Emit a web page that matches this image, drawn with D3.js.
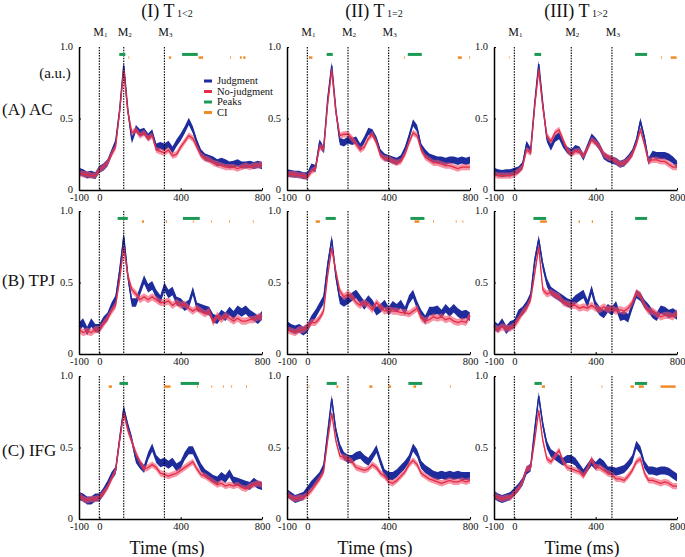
<!DOCTYPE html>
<html><head><meta charset="utf-8">
<script src="https://cdn.jsdelivr.net/npm/d3@7"></script>
<style>
body{margin:0;background:#fff}
svg{display:block}
text{font-family:"Liberation Serif","Times New Roman",serif;fill:#111}
</style>
</head><body>
<svg id="chart" width="685" height="557"></svg>
<script>
// ---------- DATA ----------
const times = [-100,-80,-60,-40,-20,0,20,40,60,80,100,120,140,160,180,200,220,240,260,280,300,320,340,360,380,400,420,440,460,480,500,520,540,560,580,600,620,640,660,680,700,720,740,760,780,800];

const conditions = ["(I) T", "(II) T", "(III) T"];
const conditionSubs = ["1<2", "1=2", "1>2"];
const regions = ["(A) AC", "(B) TPJ", "(C) IFG"];
const markerTimes = [[0,120,320],[0,200,400],[0,280,480]];
const markerLabels = ["1","2","3"];
const xTicks = [-100,0,400,800];
const xTickLabels = ["-100","0","400","800"];
const yTicks = [0,0.5,1];
const yTickLabels = ["0","0.5","1.0"];
const legendLabels = ["Judgment","No-judgment","Peaks","CI"];

// AC
const AC_I_J = [0.13,0.12,0.105,0.11,0.10,0.145,0.16,0.19,0.26,0.33,0.56,0.87,0.56,0.35,0.43,0.40,0.41,0.37,0.40,0.30,0.31,0.30,0.32,0.28,0.33,0.37,0.42,0.48,0.42,0.33,0.26,0.23,0.22,0.21,0.19,0.20,0.19,0.175,0.18,0.19,0.175,0.175,0.18,0.17,0.18,0.17];
const AC_I_N = [0.12,0.11,0.11,0.10,0.10,0.14,0.16,0.19,0.25,0.30,0.55,0.84,0.55,0.40,0.42,0.38,0.40,0.36,0.38,0.28,0.27,0.26,0.28,0.24,0.25,0.30,0.34,0.38,0.36,0.30,0.24,0.22,0.21,0.19,0.18,0.17,0.16,0.16,0.16,0.15,0.16,0.17,0.16,0.17,0.17,0.18];
const AC_II_J = [0.12,0.115,0.11,0.11,0.10,0.10,0.16,0.15,0.33,0.28,0.63,0.87,0.56,0.34,0.33,0.35,0.34,0.35,0.30,0.35,0.41,0.40,0.35,0.26,0.23,0.22,0.21,0.20,0.22,0.28,0.37,0.47,0.43,0.30,0.26,0.23,0.22,0.21,0.21,0.20,0.21,0.21,0.20,0.21,0.20,0.21];
const AC_II_N = [0.11,0.11,0.11,0.10,0.10,0.09,0.13,0.15,0.30,0.29,0.60,0.84,0.55,0.38,0.39,0.39,0.36,0.32,0.28,0.30,0.36,0.39,0.33,0.24,0.22,0.22,0.20,0.19,0.20,0.25,0.33,0.40,0.38,0.28,0.23,0.21,0.19,0.19,0.18,0.17,0.17,0.16,0.15,0.16,0.16,0.16];
const AC_III_J = [0.13,0.12,0.115,0.12,0.12,0.13,0.14,0.17,0.32,0.27,0.60,0.88,0.60,0.36,0.30,0.36,0.38,0.32,0.28,0.26,0.29,0.28,0.23,0.30,0.37,0.34,0.30,0.24,0.22,0.21,0.20,0.18,0.19,0.22,0.26,0.34,0.48,0.36,0.20,0.25,0.24,0.24,0.24,0.23,0.21,0.18];
const AC_III_N = [0.11,0.10,0.10,0.10,0.10,0.11,0.13,0.16,0.28,0.26,0.58,0.84,0.58,0.38,0.34,0.40,0.42,0.35,0.28,0.25,0.27,0.27,0.24,0.29,0.35,0.33,0.30,0.25,0.23,0.22,0.20,0.18,0.19,0.21,0.25,0.32,0.42,0.32,0.20,0.21,0.21,0.20,0.20,0.18,0.16,0.16];
// TPJ
const TPJ_I_J = [0.19,0.22,0.16,0.22,0.18,0.18,0.23,0.26,0.33,0.38,0.58,0.82,0.55,0.36,0.36,0.44,0.52,0.46,0.48,0.42,0.38,0.47,0.42,0.44,0.37,0.36,0.33,0.35,0.44,0.33,0.32,0.31,0.30,0.25,0.24,0.28,0.26,0.30,0.27,0.31,0.29,0.31,0.28,0.26,0.24,0.27];
const TPJ_I_N = [0.17,0.15,0.16,0.15,0.17,0.17,0.21,0.25,0.30,0.34,0.52,0.75,0.55,0.45,0.42,0.38,0.40,0.38,0.40,0.38,0.36,0.36,0.37,0.34,0.36,0.34,0.35,0.32,0.30,0.32,0.30,0.28,0.30,0.22,0.27,0.24,0.27,0.25,0.23,0.25,0.23,0.23,0.24,0.24,0.26,0.26];
const TPJ_II_J = [0.20,0.18,0.17,0.18,0.16,0.18,0.24,0.28,0.33,0.38,0.62,0.80,0.55,0.38,0.36,0.38,0.40,0.42,0.38,0.34,0.38,0.35,0.30,0.32,0.35,0.30,0.34,0.32,0.35,0.30,0.38,0.42,0.34,0.28,0.24,0.30,0.30,0.31,0.28,0.32,0.29,0.32,0.29,0.27,0.28,0.26];
const TPJ_II_N = [0.17,0.16,0.15,0.17,0.17,0.19,0.22,0.22,0.25,0.30,0.55,0.74,0.58,0.44,0.40,0.42,0.40,0.36,0.34,0.36,0.34,0.31,0.36,0.33,0.30,0.31,0.30,0.30,0.29,0.29,0.28,0.30,0.32,0.25,0.23,0.24,0.26,0.25,0.26,0.24,0.25,0.23,0.22,0.23,0.22,0.27];
const TPJ_III_J = [0.20,0.18,0.22,0.17,0.20,0.21,0.28,0.30,0.34,0.40,0.65,0.80,0.62,0.50,0.44,0.42,0.40,0.38,0.36,0.35,0.38,0.40,0.42,0.35,0.45,0.34,0.30,0.28,0.32,0.30,0.34,0.26,0.27,0.25,0.34,0.42,0.40,0.35,0.32,0.28,0.26,0.31,0.30,0.28,0.29,0.27];
const TPJ_III_N = [0.19,0.17,0.19,0.18,0.18,0.20,0.24,0.29,0.32,0.38,0.56,0.75,0.45,0.42,0.43,0.41,0.40,0.36,0.35,0.34,0.34,0.32,0.33,0.32,0.34,0.32,0.31,0.33,0.31,0.32,0.30,0.31,0.30,0.32,0.36,0.43,0.41,0.34,0.30,0.30,0.28,0.26,0.27,0.27,0.26,0.29];
// IFG
const IFG_I_J = [0.16,0.15,0.13,0.13,0.15,0.15,0.19,0.24,0.30,0.34,0.56,0.77,0.65,0.55,0.42,0.38,0.35,0.44,0.50,0.42,0.39,0.40,0.38,0.40,0.36,0.38,0.44,0.48,0.48,0.42,0.36,0.32,0.30,0.28,0.27,0.30,0.28,0.32,0.27,0.26,0.25,0.24,0.23,0.26,0.24,0.23];
const IFG_I_N = [0.17,0.14,0.13,0.14,0.14,0.15,0.18,0.22,0.28,0.34,0.55,0.74,0.62,0.54,0.46,0.40,0.35,0.36,0.38,0.36,0.32,0.31,0.30,0.31,0.32,0.34,0.36,0.38,0.40,0.35,0.31,0.30,0.28,0.26,0.24,0.25,0.23,0.24,0.23,0.24,0.22,0.21,0.23,0.24,0.25,0.24];
const IFG_II_J = [0.18,0.16,0.14,0.15,0.16,0.20,0.24,0.27,0.30,0.36,0.60,0.84,0.62,0.50,0.44,0.42,0.42,0.44,0.45,0.42,0.40,0.44,0.49,0.40,0.32,0.30,0.30,0.32,0.35,0.38,0.42,0.50,0.46,0.38,0.35,0.33,0.31,0.30,0.31,0.30,0.31,0.30,0.31,0.30,0.30,0.30];
const IFG_II_N = [0.18,0.15,0.14,0.15,0.15,0.17,0.20,0.24,0.28,0.33,0.55,0.74,0.55,0.44,0.43,0.42,0.40,0.36,0.35,0.34,0.35,0.38,0.36,0.32,0.30,0.26,0.25,0.27,0.30,0.33,0.38,0.41,0.38,0.32,0.30,0.28,0.27,0.26,0.25,0.26,0.27,0.26,0.26,0.27,0.26,0.27];
const IFG_III_J = [0.17,0.15,0.14,0.15,0.16,0.19,0.22,0.26,0.34,0.36,0.62,0.86,0.66,0.52,0.46,0.44,0.42,0.40,0.42,0.42,0.40,0.36,0.32,0.36,0.40,0.37,0.40,0.38,0.34,0.34,0.33,0.34,0.35,0.38,0.42,0.52,0.48,0.38,0.34,0.34,0.33,0.34,0.34,0.33,0.31,0.29];
const IFG_III_N = [0.17,0.15,0.14,0.15,0.15,0.18,0.21,0.26,0.35,0.36,0.55,0.76,0.55,0.42,0.40,0.44,0.48,0.40,0.36,0.35,0.34,0.33,0.30,0.35,0.42,0.36,0.36,0.34,0.32,0.31,0.28,0.28,0.27,0.30,0.34,0.40,0.42,0.32,0.27,0.27,0.26,0.25,0.26,0.25,0.23,0.23];

// band half-widths (standard error), per region: [Judgment, No-judgment]
const bandHalfWidth = [[0.025,0.022],[0.03,0.025],[0.028,0.022]];

// significant windows (ms)
const peaks_AC = [[[98,128],[407,484]], [[95,125],[494,563]], [[99,132],[594,653]]];
const ci_AC = [[[143,147],[342,353],[488,510],[643,647],[691,700],[708,719]], [[8,25],[475,479],[740,760],[796,800]], [[-27,-24],[721,725],[769,798]]];
const peaks_TPJ = [[[90,140],[411,494]], [[90,140],[507,576]], [[94,156],[594,653]]];
const ci_TPJ = [[[210,220],[327,333],[460,464],[549,553],[638,642],[755,759]], [[41,62],[527,551],[618,622],[730,734],[763,767]], [[127,160],[316,322],[381,387]]];
const peaks_IFG = [[[99,141],[400,490]], [[95,145],[497,565]], [[99,135],[593,653]]];
const ci_IFG = [[[46,62],[318,350],[480,484],[551,555],[608,612],[649,653],[722,726]], [[6,10],[143,152],[305,320],[400,412],[522,535],[701,705]], [[135,151],[429,433],[571,588],[612,637],[719,793]]];

// ---------- BUILD ----------
const series = [
  [[AC_I_J,AC_I_N],[AC_II_J,AC_II_N],[AC_III_J,AC_III_N]],
  [[TPJ_I_J,TPJ_I_N],[TPJ_II_J,TPJ_II_N],[TPJ_III_J,TPJ_III_N]],
  [[IFG_I_J,IFG_I_N],[IFG_II_J,IFG_II_N],[IFG_III_J,IFG_III_N]]
];
const peaksAll = [peaks_AC, peaks_TPJ, peaks_IFG];
const ciAll = [ci_AC, ci_TPJ, ci_IFG];

const colors = {blue:"#1e2c9c", red:"#e52b45", redBand:"rgba(240,80,108,0.62)", green:"#1c9a55", orange:"#f08c28"};

const colX = [79, 287, 494];
const rowTop = [47, 211, 376];
const plotW = 183, plotH = 143;

const svg = d3.select("#chart");
const x = d3.scaleLinear().domain([-100,800]).range([0,plotW]);
const y = d3.scaleLinear().domain([0,1]).range([plotH,0]);

for (let r = 0; r < 3; r++) {
  for (let c = 0; c < 3; c++) {
    const g = svg.append("g").attr("transform", `translate(${colX[c]},${rowTop[r]})`);
    const [J, N] = series[r][c];
    const [hwJ, hwN] = bandHalfWidth[r];

    const areaJ = d3.area().x((d,i)=>x(times[i])).y0(d=>y(d-hwJ)).y1(d=>y(d+hwJ));
    const areaN = d3.area().x((d,i)=>x(times[i])).y0(d=>y(d-hwN)).y1(d=>y(d+hwN));
    const lineF = d3.line().x((d,i)=>x(times[i])).y(d=>y(d));

    g.append("path").datum(J).attr("d", areaJ).attr("fill", colors.blue);
    g.append("path").datum(J).attr("d", lineF).attr("fill","none").attr("stroke", colors.blue).attr("stroke-width",1.5);
    g.append("path").datum(N).attr("d", areaN).attr("fill", colors.redBand);
    g.append("path").datum(N).attr("d", lineF).attr("fill","none").attr("stroke", colors.red).attr("stroke-width",1.3);

    // dotted marker lines
    markerTimes[c].forEach((t,k) => {
      g.append("line").attr("x1",x(t)).attr("x2",x(t)).attr("y1",0).attr("y2",plotH)
        .attr("stroke","#000").attr("stroke-width",1.1).attr("stroke-dasharray","1.5,1.2");
      if (r === 0) {
        const tx = g.append("text").attr("x", x(t)+1).attr("y", -11).attr("text-anchor","middle")
          .style("font-size","12px");
        tx.append("tspan").text("M");
        tx.append("tspan").text(markerLabels[k]).style("font-size","7px").attr("dy","1");
      }
    });

    // peaks and CI markers
    peaksAll[r][c].forEach(([a,b]) => {
      g.append("line").attr("x1",x(a)).attr("x2",x(b)).attr("y1",y(0.948)).attr("y2",y(0.948))
        .attr("stroke",colors.green).attr("stroke-width",3);
    });
    ciAll[r][c].forEach(([a,b]) => {
      g.append("line").attr("x1",x(a)).attr("x2",x(b)).attr("y1",y(0.926)).attr("y2",y(0.926))
        .attr("stroke",colors.orange).attr("stroke-width",2.5);
    });

    // axes
    const ya = g.append("g").call(d3.axisLeft(y).tickValues(yTicks)
      .tickFormat((d,i) => yTickLabels[i]).tickSizeInner(-2).tickSizeOuter(0).tickPadding(6));
    const xa = g.append("g").attr("transform",`translate(0,${plotH})`).call(d3.axisBottom(x).tickValues(xTicks)
      .tickFormat((d,i) => xTickLabels[i]).tickSizeInner(-2).tickSizeOuter(0).tickPadding(4));
    [ya, xa].forEach(a => {
      a.attr("font-family", null).attr("font-size", null);
      a.select(".domain").attr("stroke","#000").attr("stroke-width",1.5);
      a.selectAll(".tick line").attr("stroke","#000");
      a.selectAll("text").style("font-size","10.5px").style("font-family","Liberation Serif").attr("fill","#111");
    });
    ya.selectAll(".tick text").attr("dy","0.25em");
  }
}

// column titles
const titleX = [167, 374, 576];
conditions.forEach((t,c) => {
  const tx = svg.append("text").attr("x", titleX[c]).attr("y", 17).attr("text-anchor","middle").style("font-size","18px");
  tx.append("tspan").text(t);
  tx.append("tspan").text(" " + conditionSubs[c]).style("font-size","10px");
});

// row labels
const rowLabelY = [115, 286, 456];
regions.forEach((t,r) => {
  svg.append("text").attr("x",2).attr("y",rowLabelY[r]).style("font-size","17px").text(t);
});
svg.append("text").attr("x",55).attr("y",78).attr("text-anchor","middle").style("font-size","15px").text("(a.u.)");

// x titles
[0,1,2].forEach(c => {
  svg.append("text").attr("x", colX[c]+88).attr("y", 554).attr("text-anchor","middle").style("font-size","18px").text("Time (ms)");
});

// legend
const legColors = [colors.blue, colors.red, colors.green, colors.orange];
const legY = [81, 91.5, 102, 112.5];
legendLabels.forEach((l,i) => {
  svg.append("line").attr("x1",204).attr("x2",212).attr("y1",legY[i]).attr("y2",legY[i])
    .attr("stroke",legColors[i]).attr("stroke-width",3);
  svg.append("text").attr("x",217).attr("y",legY[i]+3.3).style("font-size","10.5px").text(l);
});
</script>
</body></html>
